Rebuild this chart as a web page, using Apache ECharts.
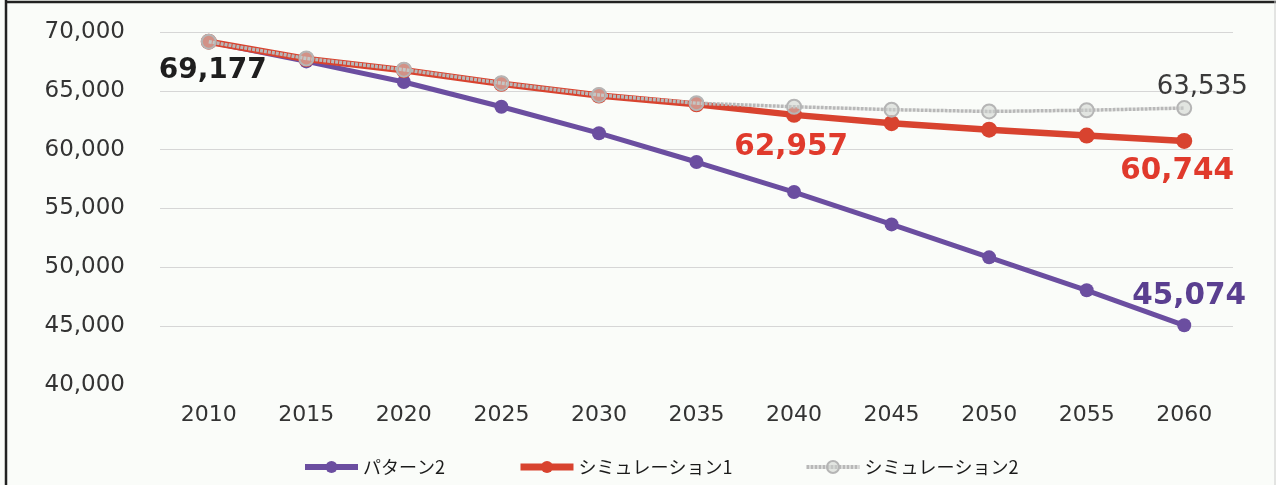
<!DOCTYPE html>
<html>
<head>
<meta charset="utf-8">
<script src="https://cdn.jsdelivr.net/npm/echarts@6/dist/echarts.min.js"></script>
<style>
html,body{margin:0;padding:0;background:#fbfcfa;}
#c{width:1276px;height:485px;}
</style>
</head>
<body>
<div id="c"></div>
<script>
const years = ['2010','2015','2020','2025','2030','2035','2040','2045','2050','2055','2060'];
const pattern2 = [69177, 67500, 65750, 63650, 61400, 58950, 56400, 53650, 50850, 48050, 45074];
const sim1 = [69177, 67700, 66750, 65600, 64600, 63850, 62957, 62250, 61700, 61200, 60744];
const sim2 = [69177, 67750, 66800, 65650, 64650, 63950, 63650, 63400, 63250, 63350, 63535];
const seriesNames = ['パターン2', 'シミュレーション1', 'シミュレーション2'];
const yTicks = {min: 40000, max: 70000, interval: 5000};

const numFont = 'DejaVu Sans';
function fmt(v){ return v.toLocaleString('en-US'); }

function withLabels(arr, labels){
  return arr.map((v, i) => labels[i] ? {value: v, label: Object.assign({show: true, position: 'inside', formatter: fmt(v), fontFamily: numFont}, labels[i])} : v);
}

const chart = echarts.init(document.getElementById('c'), null, {renderer: 'canvas'});
chart.setOption({
  backgroundColor: '#fafcf9',
  animation: false,
  grid: {left: 160, right: 43, top: 32, bottom: 100},
  graphic: [
    {type: 'line', shape: {x1: 6, y1: 0, x2: 6, y2: 485}, style: {stroke: '#222', lineWidth: 2.5}},
    {type: 'line', shape: {x1: 6, y1: 2, x2: 1276, y2: 2}, style: {stroke: '#222', lineWidth: 2.5}},
    {type: 'line', shape: {x1: 1275, y1: 0, x2: 1275, y2: 485}, style: {stroke: '#ccc', lineWidth: 1}}
  ],
  xAxis: {
    type: 'category',
    data: years,
    boundaryGap: true,
    axisLine: {show: false},
    axisTick: {show: false},
    axisLabel: {color: '#333', fontSize: 22, fontFamily: numFont, margin: 19}
  },
  yAxis: {
    type: 'value',
    min: yTicks.min, max: yTicks.max, interval: yTicks.interval,
    axisLine: {show: false},
    axisTick: {show: false},
    axisLabel: {color: '#333', fontSize: 23, fontFamily: numFont, margin: 35, formatter: v => fmt(v)},
    splitLine: {lineStyle: {color: ['transparent', '#d6d6d6', '#d6d6d6', '#d6d6d6', '#d6d6d6', '#d6d6d6', '#d6d6d6'], width: 1.2}}
  },
  legend: {
    left: 302, top: 458, padding: 0,
    itemWidth: 53, itemHeight: 15, itemGap: 72,
    textStyle: {fontSize: 18, color: '#1a1a1a', fontFamily: 'Noto Sans CJK JP'},
    data: [
      {name: seriesNames[0], lineStyle: {width: 6}},
      {name: seriesNames[1], lineStyle: {width: 7}},
      {name: seriesNames[2], lineStyle: {width: 4}}
    ]
  },
  series: [
    {
      name: seriesNames[0], type: 'line', z: 2,
      data: withLabels(pattern2, {
        0: {color: '#1e1e1e', fontSize: 28, fontWeight: 'bold', offset: [4, 29]},
        10: {color: '#5a3f90', fontSize: 29.5, fontWeight: 'bold', offset: [5, -29]}
      }),
      symbol: 'circle', symbolSize: 14,
      lineStyle: {color: '#6b4ea0', width: 5},
      itemStyle: {color: '#6b4ea0'}
    },
    {
      name: seriesNames[1], type: 'line', z: 3,
      data: withLabels(sim1, {
        6: {color: '#e03a2c', fontSize: 29.5, fontWeight: 'bold', offset: [-3, 32]},
        10: {color: '#e03a2c', fontSize: 29.5, fontWeight: 'bold', offset: [-7, 30]}
      }),
      symbol: 'circle', symbolSize: 16,
      lineStyle: {color: '#d8432f', width: 6.5},
      itemStyle: {color: '#d8432f'}
    },
    {
      name: seriesNames[2], type: 'line', z: 4,
      data: withLabels(sim2, {
        10: {color: '#3a3a3a', fontSize: 26, fontWeight: 'normal', offset: [18, -21]}
      }),
      symbol: 'circle', symbolSize: 14,
      lineStyle: {color: '#b8b8b8', width: 3.5, type: [3, 1]},
      itemStyle: {color: 'rgba(205,210,205,0.55)', borderColor: '#b5b5b5', borderWidth: 2}
    }
  ]
});
</script>
</body>
</html>
